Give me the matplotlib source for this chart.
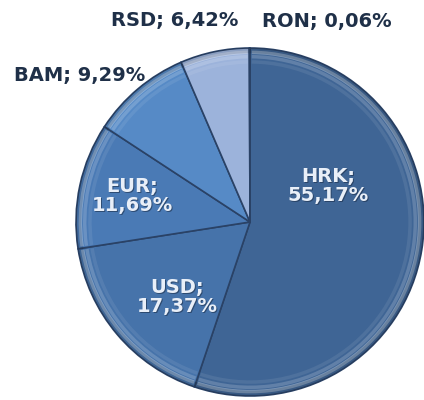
import matplotlib.pyplot as plt
import numpy as np
from matplotlib.patches import Wedge

# data
currencies = ["HRK", "USD", "EUR", "BAM", "RSD", "RON"]
shares = [55.17, 17.37, 11.69, 9.29, 6.42, 0.06]
colors = ["#3f6595", "#4673aa", "#4a7ab5", "#568ac6", "#9cb3db", "#8aa6d2"]
# label centres in pixels (x from left, y from top), and whether inside the pie
label_px = [(328, 186), (177, 297), (132, 196), (80, 76), (175, 21), (327, 22)]
inside = [True, True, True, False, False, False]

W, H = 424, 400
cx, cy, R = 250, 222, 174

fig = plt.figure(figsize=(W / 100, H / 100), dpi=100)
ax = fig.add_axes([0, 0, 1, 1])

wedges, _ = ax.pie(shares, colors=colors, startangle=90, counterclock=False,
                   radius=1.0, wedgeprops=dict(edgecolor="#2a4266", linewidth=1.2))

# fake bevel: lighter rim and inner shading on each slice
for w in wedges:
    t1, t2 = w.theta1, w.theta2
    if t2 - t1 < 1:
        continue
    for r, a in [(0.985, 0.30), (0.96, 0.18), (0.93, 0.08)]:
        ax.add_patch(Wedge((0, 0), r, t1 + 0.6, t2 - 0.6, width=0.02,
                           facecolor="white", alpha=a, edgecolor="none"))
    ax.add_patch(Wedge((0, 0), 1.0, t1, t2, width=0.03,
                       facecolor="black", alpha=0.12, edgecolor="none"))

ax.set_xlim(-cx / R, (W - cx) / R)
ax.set_ylim(-(H - cy) / R, cy / R)
ax.set_aspect("equal")
ax.axis("off")

for name, val, (px, py), ins in zip(currencies, shares, label_px, inside):
    x = (px - cx) / R
    y = (cy - py) / R
    num = f"{val:.2f}".replace(".", ",") + "%"
    if ins:
        txt = f"{name};\n{num}"
        ax.text(x + 0.008, y - 0.008, txt, ha="center", va="center", fontsize=14,
                fontweight="bold", color="#1c2f4a", linespacing=1.0, alpha=0.6)
        ax.text(x, y, txt, ha="center", va="center", fontsize=14,
                fontweight="bold", color="#e9eff8", linespacing=1.0)
    else:
        ax.text(x, y, f"{name}; {num}", ha="center", va="center", fontsize=14,
                fontweight="bold", color="#1f3048")

fig.savefig("out.png", dpi=100)
